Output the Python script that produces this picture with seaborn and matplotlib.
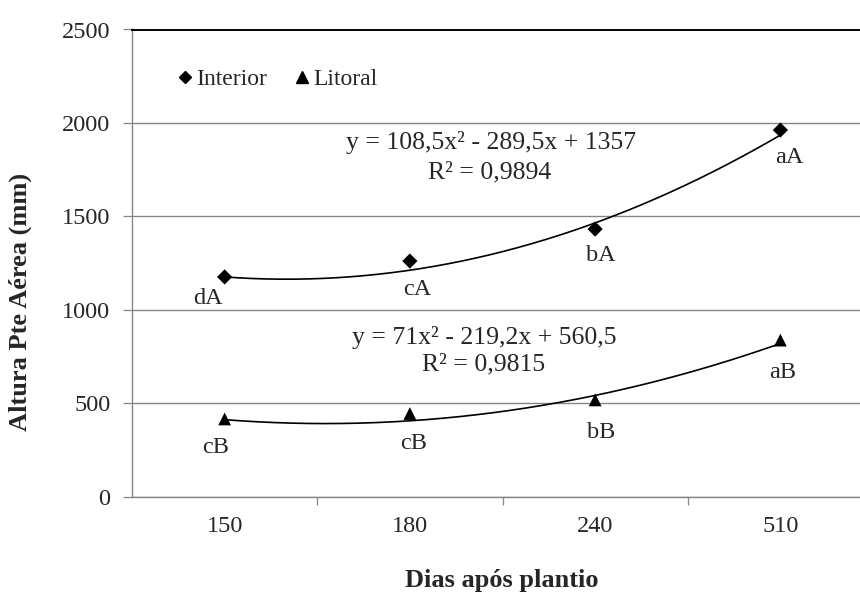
import numpy as np
import pandas as pd
import matplotlib
matplotlib.use("Agg")
import matplotlib.pyplot as plt
from matplotlib.lines import Line2D
import seaborn as sns

# Days after planting (categorical x axis)
dias = ["150", "180", "240", "510"]

# Shoot height (mm) per site
interior = [1176, 1261, 1432, 1962]
litoral = [416, 445, 518, 838]

# Mean-comparison letters
letras_interior = ["dA", "cA", "bA", "aA"]
letras_litoral = ["cB", "cB", "bB", "aB"]

# Quadratic trend coefficients (a, b, c) for y = a x^2 + b x + c, x = 1..4
coef_interior = [108.5, -289.5, 1357]
coef_litoral = [71, -219.2, 560.5]
eq_interior = ["y = 108,5x² - 289,5x + 1357", "R² = 0,9894"]
eq_litoral = ["y = 71x² - 219,2x + 560,5", "R² = 0,9815"]

sns.set_theme(style="white")
plt.rcParams["font.family"] = ["Liberation Serif", "DejaVu Serif"]

FS = 17.5

df = pd.DataFrame({
    "pos": list(range(len(dias))) * 2,
    "altura": interior + litoral,
    "local": ["Interior"] * len(dias) + ["Litoral"] * len(dias),
})

fig = plt.figure(figsize=(8.6, 5.99), dpi=100)
ax = fig.add_axes([132 / 860, 1 - 496.7 / 599, 741 / 860, 467.2 / 599])

sns.scatterplot(data=df, x="pos", y="altura", style="local", hue="local",
                size="local", sizes={"Interior": 60, "Litoral": 85},
                palette={"Interior": "black", "Litoral": "black"},
                markers={"Interior": "D", "Litoral": "^"},
                edgecolor="black", linewidth=0,
                legend=False, ax=ax, zorder=3)

# Quadratic trend lines
xs = np.linspace(1, 4, 200)
for coef in (coef_interior, coef_litoral):
    ax.plot(xs - 1, np.polyval(coef, xs), color="black", lw=1.2, zorder=2)

# Letters under the points (x offset from category, y in data units)
pos_i = [(-0.09, 1063), (0.04, 1110), (0.03, 1293), (0.05, 1813)]
for i, ((dx, y), t) in enumerate(zip(pos_i, letras_interior)):
    ax.text(i + dx, y, t, ha="center", va="center", fontsize=FS)
pos_l = [(-0.05, 261), (0.02, 287), (0.03, 346), (0.01, 662)]
for i, ((dx, y), t) in enumerate(zip(pos_l, letras_litoral)):
    ax.text(i + dx, y, t, ha="center", va="center", fontsize=FS)

# Equations
EQ = 18.5
ax.text(1.44, 1893, eq_interior[0], ha="center", va="center", fontsize=EQ)
ax.text(1.43, 1737, eq_interior[1], ha="center", va="center", fontsize=EQ)
ax.text(1.40, 850, eq_litoral[0], ha="center", va="center", fontsize=EQ)
ax.text(1.40, 705, eq_litoral[1], ha="center", va="center", fontsize=EQ)

# Axes styling
ax.set_xlim(-0.5, 3.5)
ax.set_ylim(0, 2500)
ax.set_yticks([0, 500, 1000, 1500, 2000, 2500])
ax.set_xticks(range(len(dias)))
ax.set_xticklabels(dias)
ax.set_xticks([0.5, 1.5, 2.5], minor=True)
ax.tick_params(axis="x", which="major", length=0, labelsize=FS, pad=14)
ax.tick_params(axis="x", which="minor", length=6, width=0.9, color="#868686",
               direction="out", bottom=True)
ax.tick_params(axis="y", length=6.5, width=0.9, color="#868686", labelsize=FS,
               pad=9, left=True)
ax.yaxis.grid(True, color="#868686", lw=1.0)
ax.set_axisbelow(True)
for side in ("left", "bottom"):
    ax.spines[side].set_color("#868686")
    ax.spines[side].set_linewidth(1.0)
ax.spines["top"].set_color("black")
ax.spines["top"].set_linewidth(1.4)
ax.spines["right"].set_visible(False)

ax.set_xlabel("Dias após plantio", fontsize=19, fontweight="bold")
ax.set_ylabel("Altura Pte Aérea (mm)", fontsize=19, fontweight="bold")
ax.xaxis.set_label_coords((502 - 132) / 741, (496.7 - 580) / 467.2)
ax.yaxis.set_label_coords((20 - 132) / 741, (496.7 - 302) / 467.2)
ax.xaxis.label.set_va("center")
ax.yaxis.label.set_va("center")

# Legend
handles = [Line2D([], [], marker="D", color="black", ls="none", markersize=6.5),
           Line2D([], [], marker="^", color="black", ls="none", markersize=8.5)]
ax.legend(handles, ["Interior", "Litoral"], loc="center left",
          bbox_to_anchor=((176 - 132) / 741, (496.7 - 79) / 467.2),
          ncol=2, frameon=False, fontsize=17, handletextpad=0.05,
          columnspacing=1.1, handlelength=0.8, borderpad=0, borderaxespad=0)

fig.savefig("out.png", dpi=100)
